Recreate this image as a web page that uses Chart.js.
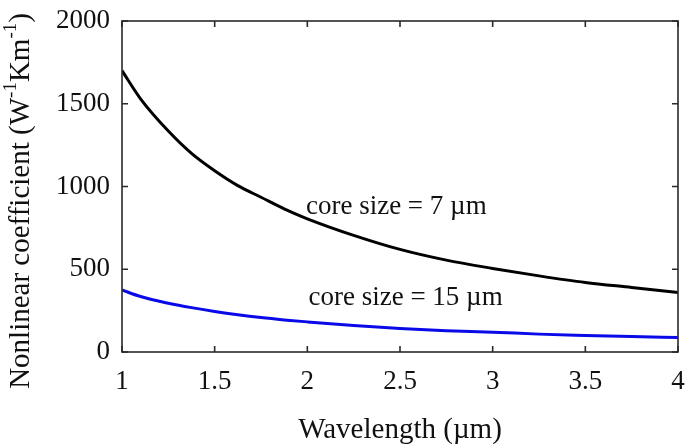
<!DOCTYPE html>
<html lang="en">
<head>
    <meta charset="UTF-8">
    <title>Nonlinear coefficient vs wavelength</title>
    <script src="https://cdn.jsdelivr.net/npm/chart.js"></script>
    <style>
        html, body { margin: 0; padding: 0; background: #fff; }
        #wrap { width: 685px; height: 448px; }
    </style>
</head>
<body>
    <div id="wrap"><canvas id="nlChart"></canvas></div>

    <script>
        // values
        const wavelengths = [1.0, 1.1, 1.25, 1.375, 1.5, 1.625, 1.75, 1.875, 2.0, 2.25, 2.5, 2.75, 3.0, 3.25, 3.5, 3.75, 4.0];
        const core7 = [1700, 1530, 1335, 1200, 1095, 1005, 935, 865, 805, 705, 620, 555, 505, 460, 420, 390, 360];
        const core15 = [375, 335, 295, 268, 245, 225, 208, 194, 182, 160, 142, 129, 120, 108, 100, 93, 88];
        const xTicks = [1, 1.5, 2, 2.5, 3, 3.5, 4];
        const yTicks = [0, 500, 1000, 1500, 2000];

        const serif = "'Liberation Serif', 'Times New Roman', serif";

        // frame + inward ticks on all four sides, curve labels, y title with superscripts
        const framePlugin = {
            id: 'frame',
            afterDraw(chart) {
                const { ctx, chartArea: a, scales } = chart;
                ctx.save();
                ctx.strokeStyle = '#2a2a2a';
                ctx.lineWidth = 1.6;
                ctx.strokeRect(a.left, a.top, a.right - a.left, a.bottom - a.top);
                ctx.beginPath();
                xTicks.forEach(v => {
                    const x = scales.x.getPixelForValue(v);
                    ctx.moveTo(x, a.bottom); ctx.lineTo(x, a.bottom - 6);
                    ctx.moveTo(x, a.top); ctx.lineTo(x, a.top + 6);
                });
                yTicks.forEach(v => {
                    const y = scales.y.getPixelForValue(v);
                    ctx.moveTo(a.left, y); ctx.lineTo(a.left + 6, y);
                    ctx.moveTo(a.right, y); ctx.lineTo(a.right - 6, y);
                });
                ctx.stroke();

                ctx.fillStyle = '#111';
                ctx.font = '27px ' + serif;
                ctx.textAlign = 'center';
                ctx.textBaseline = 'middle';
                ctx.fillText('core size = 7 \u00b5m', scales.x.getPixelForValue(2.48), scales.y.getPixelForValue(876));
                ctx.fillText('core size = 15 \u00b5m', scales.x.getPixelForValue(2.53), scales.y.getPixelForValue(326));

                // rotated y title
                const parts = [
                    ['Nonlinear coefficient (W', 29, 0],
                    ['-1', 19, -10],
                    ['Km', 29, 0],
                    ['-1', 19, -10],
                    [')', 29, 0]
                ];
                let total = 0;
                parts.forEach(p => { ctx.font = p[1] + 'px ' + serif; total += ctx.measureText(p[0]).width; });
                ctx.translate(21, 201);
                ctx.rotate(-Math.PI / 2);
                ctx.textAlign = 'left';
                let cx = -total / 2;
                parts.forEach(p => {
                    ctx.font = p[1] + 'px ' + serif;
                    ctx.fillText(p[0], cx, p[2]);
                    cx += ctx.measureText(p[0]).width;
                });
                ctx.restore();
            }
        };

        new Chart(document.getElementById('nlChart'), {
            type: 'line',
            data: {
                datasets: [
                    {
                        label: 'core size = 7 um',
                        data: wavelengths.map((w, i) => ({ x: w, y: core7[i] })),
                        borderColor: '#000',
                        borderWidth: 3,
                        pointRadius: 0,
                        cubicInterpolationMode: 'monotone'
                    },
                    {
                        label: 'core size = 15 um',
                        data: wavelengths.map((w, i) => ({ x: w, y: core15[i] })),
                        borderColor: '#0a0ae8',
                        borderWidth: 3,
                        pointRadius: 0,
                        cubicInterpolationMode: 'monotone'
                    }
                ]
            },
            options: {
                responsive: true,
                maintainAspectRatio: false,
                animation: false,
                layout: { padding: { top: 21, right: 7, left: 0, bottom: 0 } },
                plugins: {
                    legend: { display: false },
                    tooltip: { enabled: false }
                },
                scales: {
                    x: {
                        type: 'linear',
                        min: 1,
                        max: 4,
                        afterBuildTicks: s => { s.ticks = xTicks.map(v => ({ value: v })); },
                        afterFit: s => { s.height = 96; s.paddingLeft = 0; s.paddingRight = 0; },
                        grid: { display: false, drawTicks: false },
                        border: { display: false },
                        ticks: {
                            color: '#111',
                            padding: 14,
                            font: { family: serif, size: 27 },
                            maxRotation: 0,
                            callback: v => String(v)
                        },
                        title: {
                            display: true,
                            text: 'Wavelength (\u00b5m)',
                            color: '#111',
                            font: { family: serif, size: 29 },
                            padding: { top: 2, bottom: 0 }
                        }
                    },
                    y: {
                        min: 0,
                        max: 2000,
                        afterBuildTicks: s => { s.ticks = yTicks.map(v => ({ value: v })); },
                        afterFit: s => { s.width = 122; s.paddingTop = 0; s.paddingBottom = 0; },
                        grid: { display: false, drawTicks: false },
                        border: { display: false },
                        ticks: {
                            color: '#111',
                            padding: 12,
                            font: { family: serif, size: 27 },
                            callback: v => String(v)
                        },
                        title: { display: false }
                    }
                }
            },
            plugins: [framePlugin]
        });
    </script>
</body>
</html>
